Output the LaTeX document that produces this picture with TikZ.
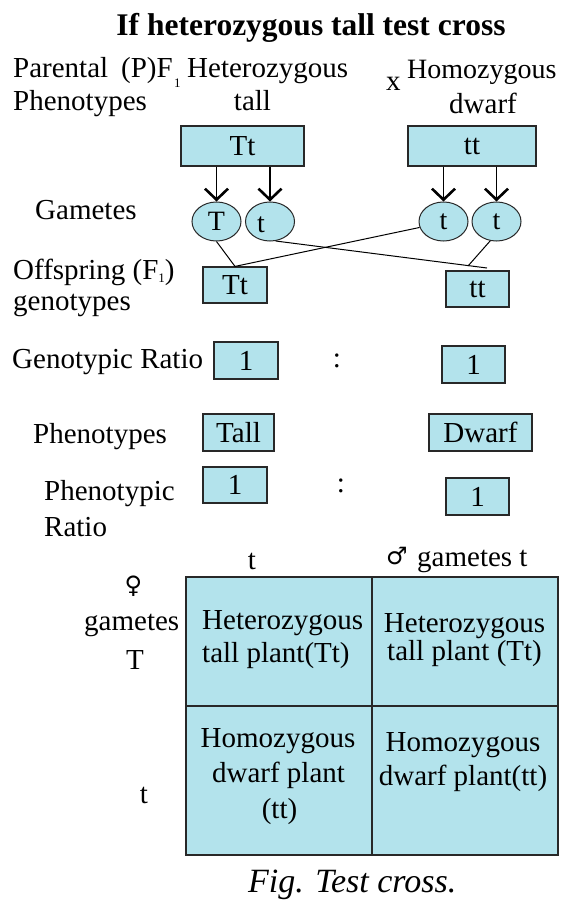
\documentclass[tikz,border=0pt]{standalone}
\usepackage{fontspec}
\setmainfont{Liberation Serif}
\newfontfamily\gsym{DejaVu Sans}
\usetikzlibrary{shapes.geometric,arrows.meta,calc}
\definecolor{cellblue}{RGB}{179,227,236}
\definecolor{edge}{RGB}{40,40,40}
\begin{document}
\begin{tikzpicture}[x=1pt,y=-1pt,
  txt/.style={inner sep=0pt, font=\fontsize{29}{31}\selectfont},
  bw/.style={txt, anchor=base west},
  bc/.style={txt, anchor=base},
  box/.style={draw=edge, fill=cellblue, line width=1.2pt, inner sep=0pt, font=\fontsize{29}{31}\selectfont},
  cell/.style={draw=edge, fill=cellblue, line width=1.2pt, inner sep=0pt},
  gam/.style={ellipse, draw=edge, fill=cellblue, line width=1pt, minimum width=49pt, minimum height=39pt, inner sep=0pt, font=\fontsize{28}{30}\selectfont},
  arr/.style={line width=1.8pt, -{Straight Barb[length=11pt,width=23pt,line width=2.6pt]}},
  ln/.style={line width=1pt}]
\useasboundingbox (0,0) rectangle (561,900);
% title
\node[inner sep=0pt, anchor=base, font=\fontsize{31.5}{33}\selectfont\bfseries] (title) at (311,35) {If heterozygous tall test cross};
% parental line
\node[bw] (par) at (13,77) {Parental};
\node[bw] (pf) at (121,77) {(P)F};
\node[inner sep=0pt, anchor=base west, font=\fontsize{13}{13}\selectfont] (pf1) at (174,87) {1};
\node[bw] (het) at (187,77) {Heterozygous};
\node[bw] (phe) at (13,110) {Phenotypes};
\node[bc] (tall) at (252.5,110) {tall};
\node[bw] (cx) at (386,90) {x};
\node[txt, anchor=base west, font=\fontsize{28}{30}\selectfont] (hom) at (407,78) {Homozygous};
\node[bc] (dw) at (483,113) {dwarf};
% parent boxes
\node[box, minimum width=123pt, minimum height=40pt] (P1) at (242.5,146) {Tt};
\node[box, minimum width=128pt, minimum height=40pt] (P2) at (472,146) {tt};
% gametes
\node[bw] (gam) at (35,219) {Gametes};
\node[gam] (g1) at (216.5,221.5) {T};
\node[gam] (g2) at (270,221.5) {};
\node[inner sep=0pt, font=\fontsize{28}{30}\selectfont] (g2t) at (261,225) {t};
\node[gam] (g3) at (443.5,221.5) {t};
\node[gam] (g4) at (496.5,221.5) {t};
\draw[arr] (P1.south -| g1.north) -- (g1.north);
\draw[arr] (P1.south -| g2.north) -- (g2.north);
\draw[arr] (P2.south -| g3.north) -- (g3.north);
\draw[arr] (P2.south -| g4.north) -- (g4.north);
% offspring
\node[bw] (off) at (13,279) {Offspring (F\raisebox{-0.3ex}{\fontsize{13}{13}\selectfont 1})};
\node[bw] (gen) at (13,310) {genotypes};
\node[box, minimum width=64pt, minimum height=36pt] (o1) at (235,285) {Tt};
\node[box, minimum width=63pt, minimum height=36pt] (o2) at (477.5,289) {tt};
\coordinate (e2) at (487,268);
\coordinate (e4) at (468,266);
\draw[ln] (g1.south) -- (o1.north);
\draw[ln] (g3.194) -- (o1.north);
\draw[ln] (g2.-74) -- (e2);
\draw[ln] (g4.-108) -- (e4);
% genotypic ratio
\node[bw] (gr) at (12,368) {Genotypic Ratio};
\node[box, minimum width=64pt, minimum height=37pt] (r1) at (246,360.5) {1};
\node[txt] (c1) at (337,361) {:};
\node[box, minimum width=63pt, minimum height=37pt] (r2) at (473.5,364.5) {1};
% phenotypes
\node[bw] (ph2) at (33,443) {Phenotypes};
\node[box, minimum width=71pt, minimum height=37pt] (f1) at (238.5,432.5) {Tall};
\node[box, minimum width=103pt, minimum height=37pt] (f2) at (480.5,432.5) {Dwarf};
% phenotypic ratio
\node[bw] (pr1) at (44,500) {Phenotypic};
\node[bw] (pr2) at (44,536) {Ratio};
\node[box, minimum width=64pt, minimum height=36pt] (q1) at (235,485) {1};
\node[txt] (c2) at (341,486) {:};
\node[box, minimum width=63pt, minimum height=37pt] (q2) at (477.5,496.5) {1};
% punnett grid
\node[cell, minimum width=186pt, minimum height=129pt] (c11) at (279,641.5) {};
\node[cell, minimum width=186pt, minimum height=129pt] (c12) at (465,641.5) {};
\node[cell, minimum width=186pt, minimum height=149pt] (c21) at (279,780.5) {};
\node[cell, minimum width=186pt, minimum height=149pt] (c22) at (465,780.5) {};
\node[bc] (ht) at (252,569) {t};
\node[inner sep=0pt, font=\gsym\fontsize{24}{26}\selectfont] (male) at (397,556) {♂};
\node[bw] (mg) at (417,566) {gametes t};
\node[inner sep=0pt, font=\gsym\fontsize{24}{26}\selectfont] (fem) at (133.5,586) {♀};
\node[bw] (fg) at (84,630) {gametes};
\node[bc] (fT) at (135,669) {T};
\node[bc] (ft) at (144,803) {t};
\node[bw] (t11a) at (202,629) {Heterozygous};
\node[bw] (t11b) at (202,662) {tall plant(Tt)};
\node[bc] (t12a) at (464.5,632) {Heterozygous};
\node[bc] (t12b) at (464.5,660) {tall plant (Tt)};
\node[bc] (t21a) at (278,747) {Homozygous};
\node[bc] (t21b) at (278.5,782) {dwarf plant};
\node[bc] (t21c) at (279.5,818) {(tt)};
\node[bc] (t22a) at (463,751) {Homozygous};
\node[bc] (t22b) at (463,785) {dwarf plant(tt)};
% caption
\node[inner sep=0pt, anchor=base west, font=\fontsize{34}{36}\selectfont\itshape] (cap) at (248,892) {Fig. Test cross.};
\end{tikzpicture}
\end{document}
